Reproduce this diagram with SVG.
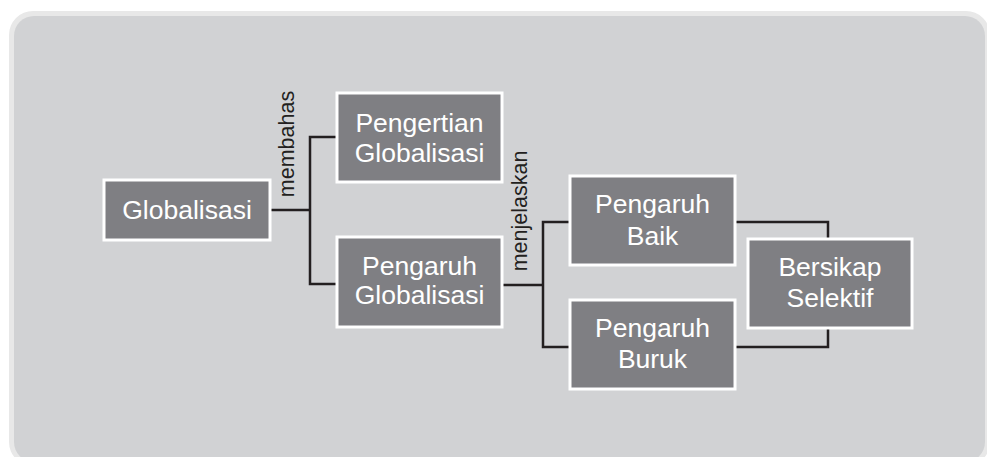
<svg xmlns="http://www.w3.org/2000/svg" width="987" height="457" viewBox="0 0 987 457">
<style>
.node rect{fill:#7f7f83;stroke:#ffffff;stroke-width:3}
.node text{fill:#ffffff;font-family:"Liberation Sans",Arial,sans-serif;font-size:26.5px;text-anchor:middle}
.conn{fill:none;stroke:#231f20;stroke-width:2.5}
.lbl{fill:#231f20;font-family:"Liberation Sans",Arial,sans-serif;font-size:21.5px;text-anchor:middle}
</style>
<rect x="0" y="0" width="987" height="457" fill="#ffffff"/>
<rect x="9" y="11" width="981" height="455" rx="24" fill="#e8e8e8"/>
<rect x="14" y="16" width="971" height="446" rx="20" fill="#d1d2d4"/>
<g id="connectors">
<polyline class="conn" points="270,210 310,210"/>
<polyline class="conn" points="337,137 310,137 310,284 337,284"/>
<polyline class="conn" points="503,285 543,285"/>
<polyline class="conn" points="570,222 543,222 543,347 570,347"/>
<polyline class="conn" points="735,222 828,222 828,239"/>
<polyline class="conn" points="735,347 828,347 828,328"/>
<text class="lbl" transform="translate(294,144) rotate(-90)">membahas</text>
<text class="lbl" transform="translate(527,211) rotate(-90)">menjelaskan</text>
</g>
<g id="globalisasi" class="node">
<rect x="104" y="180" width="166" height="60"/>
<text x="187" y="219">Globalisasi</text>
</g>
<g id="pengertian" class="node">
<rect x="337" y="93" width="165" height="89"/>
<text x="419.5" y="132">Pengertian</text>
<text x="419.5" y="162">Globalisasi</text>
</g>
<g id="pengaruh-globalisasi" class="node">
<rect x="337" y="237" width="165" height="90"/>
<text x="419.5" y="275">Pengaruh</text>
<text x="419.5" y="304">Globalisasi</text>
</g>
<g id="pengaruh-baik" class="node">
<rect x="570" y="176" width="165" height="89"/>
<text x="652.5" y="213">Pengaruh</text>
<text x="652.5" y="245">Baik</text>
</g>
<g id="pengaruh-buruk" class="node">
<rect x="570" y="300" width="165" height="89"/>
<text x="652.5" y="337">Pengaruh</text>
<text x="652.5" y="368">Buruk</text>
</g>
<g id="bersikap-selektif" class="node">
<rect x="748" y="239" width="164" height="89"/>
<text x="830" y="276">Bersikap</text>
<text x="830" y="307">Selektif</text>
</g>
</svg>
